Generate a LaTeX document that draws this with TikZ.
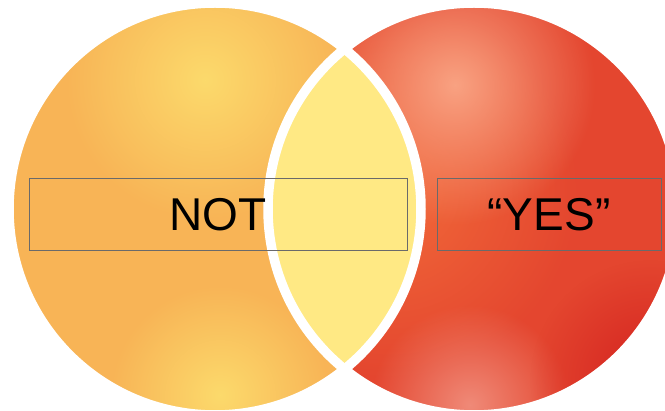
\documentclass[tikz,border=0pt]{standalone}
\usepackage{fontspec}
\setmainfont{Liberation Sans}
\usetikzlibrary{fadings}
\definecolor{notorange}{HTML}{F8B456}
\definecolor{notyellow}{HTML}{FCDA6C}
\definecolor{yesred}{HTML}{E4462F}
\definecolor{yesorange}{HTML}{F26A3A}
\definecolor{yespink}{HTML}{F9A282}
\definecolor{yesdark}{HTML}{D42320}
\definecolor{yeslight}{HTML}{F08A78}
\definecolor{lensyellow}{HTML}{FFE984}
\definecolor{boxgray}{HTML}{6A6A6A}
\tikzfading[name=glow, inner color=transparent!0, outer color=transparent!100]
\tikzset{
  labelbox/.style={draw=boxgray, line width=1pt, minimum height=72pt, inner sep=0pt, font=\fontsize{46}{50}\selectfont},
  rim/.style={draw=white, line width=9.5pt}
}

\begin{document}
\begin{tikzpicture}[x=1pt,y=-1pt]
\useasboundingbox (0,0) rectangle (665,411);
\clip (0,0) rectangle (665,411);
\fill[white] (0,0) rectangle (665,411);
\coordinate (lc) at (215,209);
\coordinate (rc) at (474,209);
\fill[notorange] (lc) circle (206pt);
\begin{scope}
\clip (lc) circle (206pt);
\fill[notyellow, path fading=glow] (205,80) circle (140pt);
\fill[notyellow, path fading=glow] (220,395) circle (110pt);
\end{scope}
\fill[yesred] (rc) circle (206pt);
\begin{scope}
\clip (rc) circle (206pt);
\fill[yesorange, path fading=glow] (390,190) circle (190pt);
\fill[yespink, path fading=glow] (455,85) circle (140pt);
\fill[yeslight, path fading=glow] (470,405) circle (100pt);
\fill[yesdark, path fading=glow] (650,380) circle (120pt);
\end{scope}
\begin{scope}
\clip (lc) circle (206pt);
\fill[lensyellow] (rc) circle (206pt);
\end{scope}
\draw[rim] (lc) circle (206pt);
\draw[rim] (rc) circle (206pt);
\node[labelbox, minimum width=378pt] (notbox) at (218,215) {NOT};
\node[labelbox, minimum width=224pt] (yesbox) at (549,215) {“YES”};
\end{tikzpicture}
\end{document}
